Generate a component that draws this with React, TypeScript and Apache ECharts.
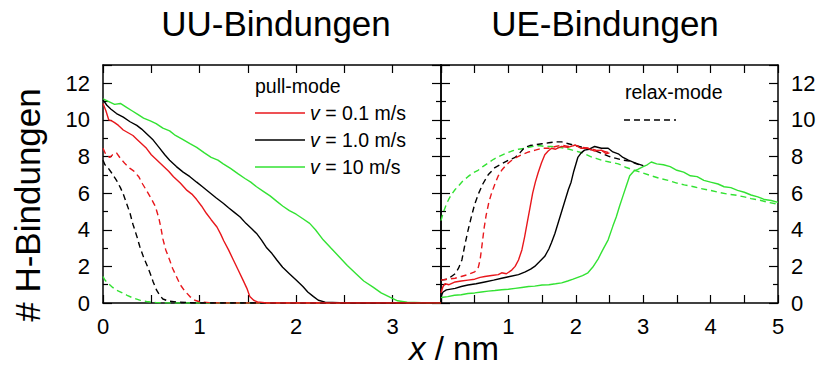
import React, { useEffect, useRef } from "react";
import * as echarts from "echarts";

// Axis tick labels
const uuXTicks = [0, 1, 2, 3];
const ueXTicks = [1, 2, 3, 4, 5];
const yTicks = [0, 2, 4, 6, 8, 10, 12];

// UU-Bindungen, pull-mode ([x / nm, # H-bonds])
const uuPull01: number[][] = [
  [0, 10.9], [0.03, 10.5], [0.06, 10.0], [0.09, 9.95], [0.12, 9.85], [0.16, 9.7], [0.21, 9.45],
  [0.26, 9.3], [0.31, 9.15], [0.35, 8.95], [0.4, 8.7], [0.45, 8.45], [0.5, 8.1], [0.56, 7.8],
  [0.62, 7.5], [0.68, 7.2], [0.73, 6.9], [0.8, 6.55], [0.87, 6.15], [0.92, 5.95], [0.97, 5.65],
  [1.02, 5.3], [1.07, 4.9], [1.12, 4.55], [1.18, 4.15], [1.22, 3.75], [1.25, 3.4], [1.3, 2.9],
  [1.35, 2.35], [1.4, 1.8], [1.45, 1.25], [1.49, 0.8], [1.52, 0.35], [1.56, 0.15], [1.6, 0.06],
  [1.7, 0], [3.5, 0],
];
const uuPull10: number[][] = [
  [0, 11.1], [0.04, 10.8], [0.08, 10.6], [0.14, 10.35], [0.21, 10.15], [0.28, 9.9], [0.35, 9.7],
  [0.4, 9.5], [0.46, 9.2], [0.52, 8.9], [0.58, 8.5], [0.64, 8.1], [0.69, 7.8], [0.76, 7.45],
  [0.83, 7.15], [0.9, 6.9], [0.97, 6.6], [1.03, 6.35], [1.1, 6.05], [1.17, 5.75], [1.245, 5.45],
  [1.3, 5.2], [1.36, 4.95], [1.42, 4.7], [1.48, 4.35], [1.54, 4.05], [1.59, 3.8], [1.64, 3.45],
  [1.69, 3.05], [1.75, 2.7], [1.8, 2.35], [1.86, 1.95], [1.93, 1.6], [2.0, 1.25], [2.07, 0.9],
  [2.12, 0.6], [2.18, 0.35], [2.23, 0.15], [2.3, 0.05], [2.45, 0.02], [2.6, 0], [3.5, 0],
];
const uuPull100: number[][] = [
  [0, 11.15], [0.06, 11.0], [0.12, 10.85], [0.18, 10.9], [0.24, 10.7], [0.3, 10.5], [0.36, 10.3],
  [0.42, 10.1], [0.49, 9.95], [0.55, 9.8], [0.62, 9.55], [0.69, 9.4], [0.75, 9.15], [0.82, 8.95],
  [0.9, 8.7], [0.97, 8.5], [1.05, 8.2], [1.12, 7.95], [1.19, 7.8], [1.245, 7.6], [1.32, 7.35],
  [1.4, 7.05], [1.47, 6.8], [1.53, 6.6], [1.59, 6.35], [1.66, 6.1], [1.73, 5.85], [1.8, 5.55],
  [1.86, 5.3], [1.93, 5.05], [2.0, 4.85], [2.07, 4.6], [2.14, 4.35], [2.2, 4.0], [2.28, 3.45],
  [2.36, 3.0], [2.45, 2.5], [2.53, 2.05], [2.62, 1.6], [2.7, 1.2], [2.8, 0.85], [2.88, 0.55],
  [2.97, 0.32], [3.05, 0.12], [3.15, 0.04], [3.3, 0.01], [3.5, 0],
];

// UU-Bindungen, relax-mode
const uuRelax01: number[][] = [
  [0, 8.45], [0.03, 8.1], [0.07, 7.95], [0.1, 8.1], [0.14, 8.2], [0.18, 7.9], [0.23, 7.6],
  [0.28, 7.35], [0.32, 7.2], [0.37, 6.9], [0.41, 6.5], [0.45, 6.15], [0.5, 5.7], [0.535, 5.35],
  [0.555, 5.05], [0.58, 4.6], [0.6, 4.1], [0.62, 3.5], [0.65, 2.9], [0.69, 2.35], [0.72, 1.9],
  [0.76, 1.45], [0.8, 1.0], [0.84, 0.7], [0.9, 0.35], [0.95, 0.15], [1.0, 0.07], [1.1, 0.02],
  [1.2, 0], [3.5, 0],
];
const uuRelax10: number[][] = [
  [0, 7.8], [0.02, 7.55], [0.05, 7.4], [0.09, 7.1], [0.14, 6.7], [0.18, 6.3], [0.21, 5.95],
  [0.24, 5.5], [0.28, 4.9], [0.31, 4.3], [0.35, 3.65], [0.38, 3.1], [0.42, 2.5], [0.46, 2.0],
  [0.49, 1.6], [0.52, 1.15], [0.555, 0.7], [0.59, 0.4], [0.62, 0.22], [0.68, 0.1], [0.76, 0.06],
  [0.9, 0.01], [1.0, 0], [3.5, 0],
];
const uuRelax100: number[][] = [
  [0, 1.45], [0.02, 1.25], [0.05, 1.1], [0.1, 0.85], [0.14, 0.7], [0.2, 0.55], [0.25, 0.42],
  [0.3, 0.3], [0.38, 0.16], [0.45, 0.08], [0.55, 0.02], [0.7, 0], [3.5, 0],
];

// UE-Bindungen, pull-mode
const uePull01: number[][] = [
  [0, 0.55], [0.03, 0.9], [0.06, 1.05], [0.12, 1.0], [0.21, 1.15], [0.3, 1.2], [0.4, 1.25],
  [0.5, 1.3], [0.58, 1.4], [0.65, 1.45], [0.75, 1.5], [0.85, 1.55], [0.9, 1.65], [0.97, 1.6],
  [1.05, 1.8], [1.1, 2.0], [1.15, 2.35], [1.2, 2.9], [1.24, 3.6], [1.28, 4.4], [1.32, 5.2],
  [1.36, 6.0], [1.4, 6.6], [1.44, 7.1], [1.49, 7.65], [1.54, 8.1], [1.59, 8.3], [1.64, 8.45],
  [1.7, 8.4], [1.79, 8.55], [1.88, 8.5], [1.99, 8.62], [2.08, 8.45], [2.18, 8.45], [2.28, 8.3],
  [2.38, 8.35], [2.45, 8.15], [2.5, 8.2],
];
const uePull10: number[][] = [
  [0, 0.35], [0.03, 0.6], [0.08, 0.72], [0.21, 0.8], [0.3, 0.9], [0.4, 0.98], [0.52, 1.05],
  [0.65, 1.15], [0.78, 1.25], [0.9, 1.35], [1.02, 1.45], [1.15, 1.55], [1.25, 1.7], [1.33, 1.85],
  [1.39, 2.0], [1.46, 2.25], [1.54, 2.55], [1.6, 2.95], [1.64, 3.3], [1.69, 3.8], [1.74, 4.4],
  [1.79, 5.0], [1.84, 5.6], [1.89, 6.2], [1.93, 6.6], [1.97, 7.2], [2.03, 7.95], [2.08, 8.2],
  [2.13, 8.35], [2.2, 8.4], [2.28, 8.55], [2.38, 8.45], [2.48, 8.45], [2.55, 8.25], [2.63, 8.15],
  [2.7, 7.95], [2.78, 7.8], [2.85, 7.7], [2.92, 7.6], [3.0, 7.5],
];
const uePull100: number[][] = [
  [0, 0.3], [0.1, 0.35], [0.2, 0.42], [0.3, 0.45], [0.4, 0.52], [0.5, 0.55], [0.6, 0.6],
  [0.7, 0.65], [0.8, 0.68], [0.9, 0.72], [1.0, 0.75], [1.1, 0.8], [1.2, 0.85], [1.3, 0.9],
  [1.39, 0.92], [1.5, 0.98], [1.6, 1.0], [1.7, 1.05], [1.79, 1.1], [1.88, 1.2], [1.96, 1.3],
  [2.03, 1.4], [2.1, 1.5], [2.18, 1.65], [2.25, 1.95], [2.33, 2.4], [2.4, 2.9], [2.48, 3.45],
  [2.55, 4.2], [2.6, 4.7], [2.65, 5.3], [2.7, 5.85], [2.75, 6.4], [2.8, 6.95], [2.86, 7.2],
  [2.92, 7.3], [3.0, 7.45], [3.06, 7.55], [3.12, 7.7], [3.2, 7.6], [3.3, 7.55], [3.4, 7.45],
  [3.5, 7.25], [3.6, 7.15], [3.7, 6.95], [3.8, 6.9], [3.9, 6.7], [4.0, 6.6], [4.11, 6.5],
  [4.2, 6.35], [4.3, 6.3], [4.4, 6.15], [4.5, 6.05], [4.6, 5.9], [4.7, 5.8], [4.8, 5.65],
  [4.9, 5.6], [5.0, 5.5],
];

// UE-Bindungen, relax-mode
const ueRelax01: number[][] = [
  [0, 1.25], [0.1, 1.3], [0.21, 1.35], [0.3, 1.45], [0.4, 1.55], [0.5, 1.7], [0.55, 1.9],
  [0.58, 2.35], [0.61, 3.2], [0.64, 4.1], [0.67, 4.8], [0.71, 5.5], [0.75, 6.0], [0.8, 6.5],
  [0.85, 6.95], [0.9, 7.25], [0.97, 7.55], [1.05, 7.8], [1.12, 7.95], [1.2, 8.1], [1.3, 8.25],
  [1.4, 8.35], [1.5, 8.45], [1.6, 8.45], [1.7, 8.55], [1.79, 8.62], [1.89, 8.55], [1.99, 8.62],
  [2.1, 8.5], [2.2, 8.45], [2.3, 8.35], [2.4, 8.3], [2.5, 8.2],
];
const ueRelax10: number[][] = [
  [0, 1.25], [0.1, 1.3], [0.21, 1.6], [0.26, 1.9], [0.31, 2.35], [0.35, 3.1], [0.4, 3.95],
  [0.45, 4.7], [0.5, 5.4], [0.56, 6.0], [0.62, 6.5], [0.7, 7.0], [0.8, 7.4], [0.9, 7.6],
  [1.0, 7.8], [1.1, 7.95], [1.17, 8.2], [1.24, 8.5], [1.32, 8.6], [1.4, 8.65], [1.5, 8.7],
  [1.6, 8.75], [1.7, 8.8], [1.79, 8.8], [1.89, 8.7], [1.99, 8.6], [2.1, 8.5], [2.2, 8.4],
  [2.3, 8.3], [2.4, 8.15], [2.5, 8.0], [2.6, 7.9], [2.7, 7.8], [2.8, 7.75], [2.9, 7.6], [3.0, 7.5],
];
const ueRelax100: number[][] = [
  [0, 4.5], [0.03, 4.9], [0.08, 5.4], [0.12, 5.7], [0.16, 5.95], [0.21, 6.2], [0.26, 6.4],
  [0.32, 6.65], [0.4, 6.9], [0.47, 7.1], [0.55, 7.25], [0.62, 7.45], [0.7, 7.65], [0.78, 7.85],
  [0.86, 8.0], [0.95, 8.15], [1.05, 8.3], [1.15, 8.4], [1.25, 8.45], [1.35, 8.55], [1.45, 8.6],
  [1.55, 8.55], [1.64, 8.55], [1.75, 8.5], [1.85, 8.45], [1.95, 8.35], [2.05, 8.25], [2.13, 8.15],
  [2.22, 8.0], [2.3, 7.9], [2.38, 7.8], [2.5, 7.7], [2.63, 7.6], [2.75, 7.4], [2.87, 7.25],
  [3.0, 7.1], [3.12, 6.95], [3.25, 6.8], [3.37, 6.7], [3.5, 6.55], [3.61, 6.45], [3.75, 6.35],
  [3.86, 6.25], [4.0, 6.15], [4.11, 6.05], [4.25, 5.95], [4.36, 5.9], [4.5, 5.8], [4.6, 5.7],
  [4.75, 5.6], [4.85, 5.5], [5.0, 5.4],
];

const RED = "#e8171c";
const BLACK = "#000000";
const GREEN = "#33e233";
const FONT = "Liberation Sans, Arial, sans-serif";

const legendRows = [
  { label: "0.1 m/s", color: RED },
  { label: "1.0 m/s", color: BLACK },
  { label: "10 m/s", color: GREEN },
];

const frameLine = { show: true, onZero: false, lineStyle: { color: "#000", width: 1.5 } };

function xAxisDef(grid: number, max: number, pos: "bottom" | "top", ticks: number[]) {
  return {
    type: "value" as const,
    gridIndex: grid,
    position: pos,
    min: 0,
    max,
    interval: 0.5,
    axisLine: frameLine,
    axisTick: { show: true, inside: true, length: 8, lineStyle: { color: "#000", width: 1.2 } },
    axisLabel: {
      show: pos === "bottom",
      margin: 12,
      color: "#000",
      fontSize: 22,
      fontFamily: FONT,
      formatter: (v: number) => (ticks.includes(v) ? String(v) : ""),
    },
    splitLine: { show: false },
  };
}

function yAxisDef(grid: number, pos: "left" | "right", labels: boolean) {
  return {
    type: "value" as const,
    gridIndex: grid,
    position: pos,
    min: 0,
    max: 13,
    interval: 2,
    axisLine: frameLine,
    axisTick: { show: true, inside: true, length: 9, lineStyle: { color: "#000", width: 1.2 } },
    minorTick: { show: true, splitNumber: 2, length: 5, lineStyle: { color: "#000", width: 1.2 } },
    axisLabel: {
      show: labels,
      margin: 13,
      color: "#000",
      fontSize: 22,
      fontFamily: FONT,
      formatter: (v: number) => (yTicks.includes(v) ? String(v) : ""),
    },
    splitLine: { show: false },
  };
}

function line(data: number[][], color: string, dashed: boolean, xi: number, yi: number) {
  return {
    type: "line" as const,
    data,
    xAxisIndex: xi,
    yAxisIndex: yi,
    symbol: "none",
    showSymbol: false,
    clip: true,
    lineStyle: { color, width: 1.4, type: dashed ? [6, 4] : "solid" },
    z: dashed ? 2 : 3,
  };
}

export default function App() {
  const ref = useRef<HTMLDivElement>(null);

  useEffect(() => {
    if (!ref.current) return;
    const chart = echarts.init(ref.current, undefined, { renderer: "svg" });

    const legendGraphics: any[] = [
      {
        type: "text",
        left: 255,
        top: 76,
        style: { text: "pull-mode", fontSize: 19.5, fontFamily: FONT, fill: "#000" },
      },
      {
        type: "text",
        left: 625,
        top: 82,
        style: { text: "relax-mode", fontSize: 19.5, fontFamily: FONT, fill: "#000" },
      },
      {
        type: "line",
        shape: { x1: 624, y1: 120, x2: 676, y2: 120 },
        style: { stroke: "#000", lineWidth: 1.4, lineDash: [6, 4] },
      },
    ];
    legendRows.forEach((row, i) => {
      const y = 113 + i * 27;
      legendGraphics.push({
        type: "line",
        shape: { x1: 255, y1: y, x2: 305, y2: y },
        style: { stroke: row.color, lineWidth: 1.4 },
      });
      legendGraphics.push({
        type: "text",
        x: 310,
        y,
        style: {
          text: "{i|v} = " + row.label,
          fontSize: 19.5,
          fontFamily: FONT,
          fill: "#000",
          verticalAlign: "middle",
          rich: { i: { fontStyle: "italic", fontSize: 19.5, fontFamily: FONT, fill: "#000" } },
        },
      });
    });

    chart.setOption({
      animation: false,
      backgroundColor: "#ffffff",
      grid: [
        { left: 103, top: 65, width: 338, height: 238 },
        { left: 441, top: 65, width: 337, height: 238 },
      ],
      xAxis: [
        xAxisDef(0, 3.5, "bottom", uuXTicks),
        xAxisDef(0, 3.5, "top", uuXTicks),
        xAxisDef(1, 5, "bottom", ueXTicks),
        xAxisDef(1, 5, "top", ueXTicks),
      ],
      yAxis: [
        yAxisDef(0, "left", true),
        yAxisDef(0, "right", false),
        yAxisDef(1, "left", false),
        yAxisDef(1, "right", true),
      ],
      series: [
        line(uuRelax100, GREEN, true, 0, 0),
        line(uuRelax01, RED, true, 0, 0),
        line(uuRelax10, BLACK, true, 0, 0),
        line(uuPull100, GREEN, false, 0, 0),
        line(uuPull10, BLACK, false, 0, 0),
        line(uuPull01, RED, false, 0, 0),
        line(ueRelax100, GREEN, true, 2, 3),
        line(ueRelax10, BLACK, true, 2, 3),
        line(ueRelax01, RED, true, 2, 3),
        line(uePull100, GREEN, false, 2, 3),
        line(uePull10, BLACK, false, 2, 3),
        line(uePull01, RED, false, 2, 3),
      ],
      graphic: [
        {
          type: "text",
          x: 276,
          y: 23,
          style: {
            text: "UU-Bindungen",
            fontSize: 35,
            fontFamily: FONT,
            fill: "#000",
            align: "center",
            verticalAlign: "middle",
          },
        },
        {
          type: "text",
          x: 605,
          y: 23,
          style: {
            text: "UE-Bindungen",
            fontSize: 35,
            fontFamily: FONT,
            fill: "#000",
            align: "center",
            verticalAlign: "middle",
          },
        },
        {
          type: "text",
          x: 27,
          y: 205,
          rotation: Math.PI / 2,
          style: {
            text: "# H-Bindungen",
            fontSize: 35,
            fontFamily: FONT,
            fill: "#000",
            align: "center",
            verticalAlign: "middle",
          },
        },
        {
          type: "text",
          x: 454,
          y: 348,
          style: {
            text: "{i|x} / nm",
            fontSize: 33,
            fontFamily: FONT,
            fill: "#000",
            align: "center",
            verticalAlign: "middle",
            rich: { i: { fontStyle: "italic", fontSize: 33, fontFamily: FONT, fill: "#000" } },
          },
        },
        ...legendGraphics,
      ],
    });

    return () => chart.dispose();
  }, []);

  return (
    <div
      ref={ref}
      style={{ position: "fixed", left: 0, top: 0, width: 819, height: 367, background: "#fff" }}
    />
  );
}
